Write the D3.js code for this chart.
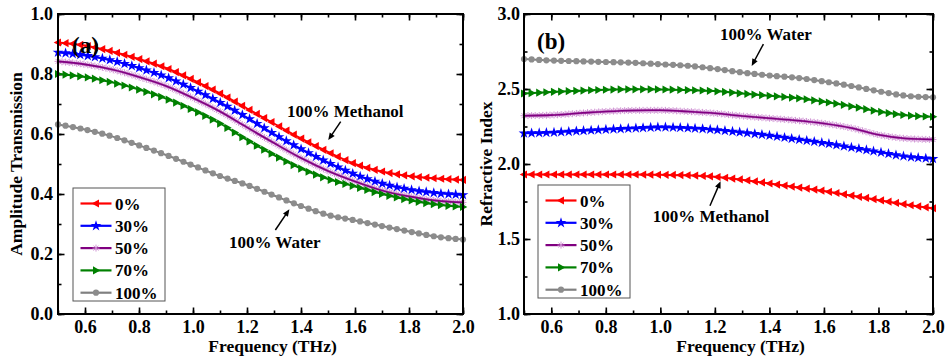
<!DOCTYPE html>
<meta charset="utf-8">
<style>
body { margin: 0; background: #fff; }
text { font-family: "Liberation Serif", "Times New Roman", serif; font-weight: bold; fill: #000; }
.tick text { font-size: 18px; font-family: "Liberation Serif", serif; font-weight: bold; }
.tick line { stroke: #000; stroke-width: 1.6px; }
</style>
<body>
<script src="https://d3js.org/d3.v7.min.js"></script>
<script>
// frequency grid (THz)
var freq = [0.5, 0.6, 0.7, 0.8, 0.9, 1.0, 1.1, 1.2, 1.3, 1.4, 1.5, 1.6, 1.7, 1.8, 1.9, 2.0];

// (a) amplitude transmission, methanol fraction in water
var amp0   = [0.905, 0.895, 0.875, 0.850, 0.820, 0.780, 0.735, 0.685, 0.635, 0.585, 0.540, 0.500, 0.475, 0.460, 0.452, 0.447];
var amp30  = [0.872, 0.862, 0.845, 0.820, 0.790, 0.750, 0.705, 0.655, 0.600, 0.550, 0.505, 0.465, 0.435, 0.415, 0.403, 0.397];
var amp50  = [0.842, 0.832, 0.815, 0.790, 0.760, 0.720, 0.675, 0.622, 0.570, 0.520, 0.477, 0.442, 0.412, 0.392, 0.378, 0.372];
var amp70  = [0.800, 0.790, 0.772, 0.748, 0.718, 0.680, 0.635, 0.580, 0.530, 0.485, 0.450, 0.425, 0.400, 0.380, 0.365, 0.357];
var amp100 = [0.632, 0.615, 0.592, 0.562, 0.530, 0.495, 0.460, 0.430, 0.395, 0.360, 0.330, 0.312, 0.293, 0.275, 0.258, 0.248];

// (b) refractive index
var idx0   = [1.930, 1.930, 1.930, 1.930, 1.930, 1.928, 1.925, 1.915, 1.895, 1.870, 1.845, 1.820, 1.790, 1.760, 1.730, 1.705];
var idx30  = [2.205, 2.210, 2.220, 2.230, 2.238, 2.245, 2.240, 2.228, 2.210, 2.190, 2.165, 2.140, 2.110, 2.080, 2.050, 2.035];
var idx50  = [2.322, 2.326, 2.338, 2.350, 2.357, 2.358, 2.350, 2.338, 2.320, 2.305, 2.290, 2.270, 2.240, 2.195, 2.170, 2.163];
var idx70  = [2.470, 2.480, 2.488, 2.495, 2.498, 2.497, 2.493, 2.486, 2.470, 2.455, 2.440, 2.415, 2.385, 2.350, 2.325, 2.315];
var idx100 = [2.700, 2.690, 2.685, 2.680, 2.675, 2.665, 2.655, 2.635, 2.610, 2.590, 2.575, 2.550, 2.520, 2.485, 2.455, 2.445];

var labels = ["0%", "30%", "50%", "70%", "100%"];
var freqTicks = [0.6, 0.8, 1.0, 1.2, 1.4, 1.6, 1.8, 2.0];
var ampTicks = [0.0, 0.2, 0.4, 0.6, 0.8, 1.0];
var idxTicks = [1.0, 1.5, 2.0, 2.5, 3.0];

var lineColors = ["#ff0000", "#0000ff", "#800080", "#008000", "#808080"];
var markColors = ["#ff0000", "#0000ff", "#cc8ad0", "#008000", "#8c8c8c"];
var shapes = ["left", "star", "aster", "right", "circle"];

var width = 947, height = 360, plotTop = 14, plotBottom = 314;

var svg = d3.select("body").append("svg")
    .attr("width", width)
    .attr("height", height);

function drawMark(g, shape, color, px, py) {
  if (shape == "left") {
    g.append("path").attr("d", "M-4.3,0L3,-4.1L3,4.1Z")
      .attr("transform", "translate(" + px + "," + py + ")").attr("fill", color);
  } else if (shape == "right") {
    g.append("path").attr("d", "M4.3,0L-3,-4.1L-3,4.1Z")
      .attr("transform", "translate(" + px + "," + py + ")").attr("fill", color);
  } else if (shape == "circle") {
    g.append("circle").attr("cx", px).attr("cy", py).attr("r", 3.1).attr("fill", color);
  } else if (shape == "star") {
    g.append("path").attr("d", d3.symbol(d3.symbolStar, 36)())
      .attr("transform", "translate(" + px + "," + py + ")").attr("fill", color);
  } else {
    g.append("path").attr("d", "M-3.5,0L3.5,0M0,-3.5L0,3.5M-2.5,-2.5L2.5,2.5M-2.5,2.5L2.5,-2.5")
      .attr("transform", "translate(" + px + "," + py + ")")
      .attr("stroke", color).attr("stroke-width", 0.9).attr("fill", "none");
  }
}

// find the drawn line's point at each marker frequency
function pointsOnPath(node, xs) {
  var L = node.getTotalLength(), pts = [];
  for (var l = 0; l <= L; l += 0.4) pts.push(node.getPointAtLength(l));
  pts.push(node.getPointAtLength(L));
  return xs.map(function(px) {
    for (var i = 0; i < pts.length; i++) if (pts[i].x >= px - 0.05) return pts[i];
    return pts[pts.length - 1];
  });
}

function panel(o) {
  var g = svg.append("g");
  var x = d3.scaleLinear().domain([0.5, 2.0]).range([o.left, o.right]);
  var y = d3.scaleLinear().domain(o.yDomain).range([plotBottom, plotTop]);

  var minorX = d3.range(0.5, 2.001, 0.1);
  var minorY = d3.range(o.yDomain[0], o.yDomain[1] + 1e-6, o.yMinor);

  function axis(gen, scale, vals, size, fmt, pad, tr) {
    var a = g.append("g").attr("transform", tr)
      .call(gen(scale).tickValues(vals).tickSizeInner(size).tickSizeOuter(0)
        .tickPadding(pad).tickFormat(fmt));
    a.select(".domain").remove();
    return a;
  }
  var f1 = d3.format(".1f"), none = function() { return ""; };
  axis(d3.axisBottom, x, minorX, -3.5, none, 0, "translate(0," + plotBottom + ")");
  axis(d3.axisBottom, x, freqTicks, -6.5, f1, 6, "translate(0," + plotBottom + ")");
  axis(d3.axisTop, x, minorX, -3.5, none, 0, "translate(0," + plotTop + ")");
  axis(d3.axisTop, x, freqTicks, -6.5, none, 0, "translate(0," + plotTop + ")");
  axis(d3.axisLeft, y, minorY, -3.5, none, 0, "translate(" + o.left + ",0)");
  axis(d3.axisLeft, y, o.yTicks, -6.5, f1, o.yPad, "translate(" + o.left + ",0)");
  axis(d3.axisRight, y, minorY, -3.5, none, 0, "translate(" + o.right + ",0)");
  axis(d3.axisRight, y, o.yTicks, -6.5, none, 0, "translate(" + o.right + ",0)");

  var line = d3.line()
    .x(function(d, i) { return x(freq[i]); })
    .y(function(d) { return y(d); })
    .curve(d3.curveMonotoneX);

  var markFreq = d3.range(0, 56).map(function(i) { return x(0.5 + i * 1.5 / 55); });
  var denseFreq = d3.range(0, 111).map(function(i) { return x(0.5 + i * 1.5 / 110); });

  o.series.forEach(function(s, k) {
    var sg = g.append("g");
    var p = sg.append("path").attr("d", line(s))
      .attr("fill", "none").attr("stroke", lineColors[k]).attr("stroke-width", 2);
    var pts = pointsOnPath(p.node(), shapes[k] == "aster" ? denseFreq : markFreq);
    pts.forEach(function(pt) { drawMark(sg, shapes[k], markColors[k], pt.x, pt.y); });
    if (shapes[k] == "aster") sg.append("path").attr("d", line(s))
      .attr("fill", "none").attr("stroke", lineColors[k]).attr("stroke-width", 1.6);
  });

  // frame
  g.append("rect").attr("x", o.left).attr("y", plotTop)
    .attr("width", o.right - o.left).attr("height", plotBottom - plotTop)
    .attr("fill", "none").attr("stroke", "#000").attr("stroke-width", 2);

  // axis titles
  g.append("text").attr("x", (o.left + o.right) / 2 + 12).attr("y", 352)
    .attr("text-anchor", "middle").style("font-size", "17.5px").text("Frequency (THz)");
  g.append("text").attr("transform", "translate(" + o.yTitleX + "," + (plotTop + plotBottom) / 2 + ") rotate(-90)")
    .attr("text-anchor", "middle").style("font-size", "17.5px").text(o.yTitle);

  g.append("text").attr("x", x(o.tag[0])).attr("y", y(o.tag[1]))
    .style("font-size", "23px").text(o.tag[2]);

  // annotations
  o.notes.forEach(function(n) {
    g.append("text").attr("x", x(n.at[0])).attr("y", y(n.at[1]))
      .style("font-size", "17px").text(n.text);
    var x1 = x(n.from[0]), y1 = y(n.from[1]), x2 = x(n.to[0]), y2 = y(n.to[1]);
    var ang = Math.atan2(y2 - y1, x2 - x1);
    g.append("line").attr("x1", x1).attr("y1", y1)
      .attr("x2", x2 - 5 * Math.cos(ang)).attr("y2", y2 - 5 * Math.sin(ang))
      .attr("stroke", "#000").attr("stroke-width", 1.5);
    g.append("path").attr("d", "M0,0L-7,-3L-7,3Z")
      .attr("transform", "translate(" + x2 + "," + y2 + ") rotate(" + ang * 180 / Math.PI + ")");
  });

  // legend
  var lx = o.left + o.legend[0], ly = o.legend[1];
  g.append("rect").attr("x", lx).attr("y", ly).attr("width", 92).attr("height", 113)
    .attr("fill", "#fff").attr("stroke", "#555").attr("stroke-width", 1);
  labels.forEach(function(t, k) {
    var ry = ly + 15.5 + k * 22.3;
    g.append("line").attr("x1", lx + 7.5).attr("x2", lx + 38.5).attr("y1", ry).attr("y2", ry)
      .attr("stroke", lineColors[k]).attr("stroke-width", 2.2);
    drawMark(g, shapes[k], markColors[k], lx + 23, ry);
    g.append("text").attr("x", lx + 42).attr("y", ry + 6).style("font-size", "17px").text(t);
  });
}

panel({
  left: 58, right: 463, yDomain: [0, 1], yTicks: ampTicks, yMinor: 0.1, yPad: 5,
  series: [amp0, amp30, amp50, amp70, amp100],
  yTitle: "Amplitude Transmission", yTitleX: 22,
  tag: [0.552, 0.87, "(a)"],
  legend: [15, 188],
  notes: [
    { text: "100% Methanol", at: [1.348, 0.657], from: [1.547, 0.641], to: [1.501, 0.58] },
    { text: "100% Water", at: [1.133, 0.22], from: [1.305, 0.28], to: [1.357, 0.349] }
  ]
});

panel({
  left: 524, right: 933, yDomain: [1, 3], yTicks: idxTicks, yMinor: 0.25, yPad: 4,
  series: [idx0, idx30, idx50, idx70, idx100],
  yTitle: "Refractive Index", yTitleX: 492,
  tag: [0.548, 2.766, "(b)"],
  legend: [14, 185],
  notes: [
    { text: "100% Water", at: [1.219, 2.826], from: [1.378, 2.799], to: [1.335, 2.654] },
    { text: "100% Methanol", at: [0.972, 1.611], from: [1.182, 1.722], to: [1.221, 1.885] }
  ]
});
</script>
